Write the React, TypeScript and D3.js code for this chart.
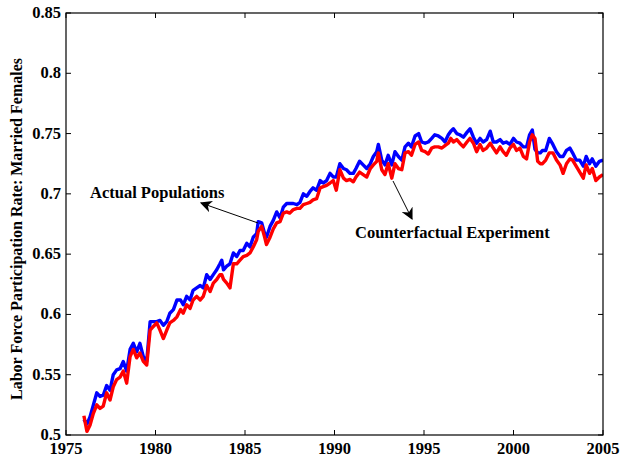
import React from "react";
import * as d3 from "d3";

const years: number[] = [
  1976.0, 1976.17, 1976.34, 1976.53, 1976.72, 1976.9, 1977.08, 1977.27, 1977.46, 1977.64,
  1977.83, 1978.02, 1978.2, 1978.39, 1978.58, 1978.76, 1978.95, 1979.13, 1979.32, 1979.51,
  1979.7, 1979.88, 1980.07, 1980.25, 1980.44, 1980.63, 1980.8, 1981.0, 1981.2, 1981.4,
  1981.55, 1981.74, 1981.93, 1982.1, 1982.3, 1982.5, 1982.67, 1982.86, 1983.05, 1983.23,
  1983.42, 1983.6, 1983.7, 1983.8, 1983.98, 1984.16, 1984.35, 1984.54, 1984.72, 1984.9,
  1985.1, 1985.28, 1985.46, 1985.65, 1985.74, 1985.93, 1986.1, 1986.2, 1986.4, 1986.58,
  1986.77, 1986.96, 1987.14, 1987.33, 1987.5, 1987.7, 1987.9, 1988.07, 1988.26, 1988.45,
  1988.63, 1988.8, 1989.0, 1989.2, 1989.37, 1989.56, 1989.75, 1989.93, 1990.1, 1990.3,
  1990.5, 1990.67, 1990.86, 1991.05, 1991.2, 1991.4, 1991.6, 1991.8, 1992.0, 1992.17,
  1992.36, 1992.45, 1992.64, 1992.82, 1993.0, 1993.2, 1993.38, 1993.57, 1993.76, 1993.94,
  1994.13, 1994.3, 1994.5, 1994.7, 1994.87, 1995.06, 1995.24, 1995.43, 1995.6, 1995.8,
  1996.0, 1996.17, 1996.36, 1996.5, 1996.64, 1996.83, 1997.0, 1997.2, 1997.4, 1997.57,
  1997.76, 1997.94, 1998.13, 1998.3, 1998.5, 1998.7, 1998.87, 1999.05, 1999.25, 1999.42,
  1999.6, 1999.8, 2000.0, 2000.17, 2000.36, 2000.55, 2000.73, 2000.9, 2001.05, 2001.2,
  2001.35, 2001.5, 2001.62, 2001.8, 2002.0, 2002.2, 2002.4, 2002.6, 2002.77, 2002.96,
  2003.15, 2003.3, 2003.5, 2003.7, 2003.9, 2004.06, 2004.25, 2004.4, 2004.6, 2004.8, 2005.0,
];

const actual: number[] = [
  0.513, 0.509, 0.515, 0.525, 0.535, 0.532, 0.533, 0.541, 0.537, 0.55,
  0.554, 0.555, 0.561, 0.553, 0.571, 0.576, 0.569, 0.576, 0.565, 0.561,
  0.594, 0.594, 0.594, 0.595, 0.591, 0.594, 0.601, 0.604, 0.612, 0.612,
  0.608, 0.615, 0.612, 0.62, 0.622, 0.624, 0.622, 0.633, 0.629, 0.633,
  0.637, 0.642, 0.645, 0.637, 0.64, 0.642, 0.651, 0.648, 0.653, 0.653,
  0.659, 0.656, 0.664, 0.667, 0.677, 0.676, 0.667, 0.664, 0.673, 0.678,
  0.685, 0.68, 0.689, 0.692, 0.692, 0.692, 0.691, 0.693, 0.7, 0.698,
  0.702, 0.705, 0.703, 0.711, 0.709, 0.711, 0.717, 0.714, 0.714, 0.725,
  0.721, 0.72, 0.717, 0.717, 0.721, 0.727, 0.724, 0.721, 0.725, 0.731,
  0.735, 0.741, 0.728, 0.724, 0.732, 0.724, 0.735, 0.731, 0.728, 0.739,
  0.742, 0.739, 0.748, 0.75, 0.743, 0.742, 0.743, 0.746, 0.749, 0.748,
  0.746, 0.743, 0.749, 0.752, 0.754, 0.75, 0.749, 0.747, 0.751, 0.754,
  0.747, 0.742, 0.746, 0.743, 0.745, 0.752, 0.743, 0.743, 0.745, 0.742,
  0.743, 0.741, 0.746, 0.743, 0.742, 0.739, 0.739, 0.749, 0.753, 0.737,
  0.734, 0.734, 0.736, 0.736, 0.746, 0.741, 0.735, 0.731, 0.731, 0.736,
  0.738, 0.734, 0.728, 0.728, 0.723, 0.731, 0.725, 0.729, 0.723, 0.727, 0.728,
];

const counterfactual: number[] = [
  0.516, 0.503, 0.508, 0.518, 0.525, 0.522, 0.524, 0.535, 0.529, 0.54,
  0.546, 0.548, 0.553, 0.543, 0.565, 0.571, 0.564, 0.568, 0.561, 0.558,
  0.587, 0.59, 0.593, 0.587, 0.58, 0.587, 0.593, 0.595, 0.598, 0.604,
  0.601, 0.608, 0.605, 0.612, 0.615, 0.612, 0.615, 0.624, 0.619, 0.626,
  0.629, 0.633, 0.633, 0.629, 0.626, 0.622, 0.642, 0.642, 0.645, 0.648,
  0.649, 0.651, 0.656, 0.662, 0.669, 0.673, 0.664, 0.658, 0.664, 0.671,
  0.676, 0.677, 0.684, 0.685, 0.684, 0.687, 0.688, 0.688, 0.691, 0.692,
  0.693, 0.695, 0.696, 0.705, 0.706, 0.707, 0.709, 0.711, 0.703, 0.72,
  0.713, 0.711, 0.712, 0.71, 0.714, 0.718, 0.716, 0.714, 0.721, 0.724,
  0.727, 0.734, 0.72, 0.716, 0.725, 0.713, 0.725, 0.721, 0.72, 0.734,
  0.735, 0.732, 0.741, 0.743, 0.736, 0.735, 0.733, 0.738, 0.739, 0.739,
  0.738, 0.74, 0.742, 0.746, 0.743, 0.745, 0.742, 0.739, 0.743, 0.746,
  0.742, 0.735, 0.741, 0.736, 0.738, 0.742, 0.738, 0.734, 0.739, 0.735,
  0.732, 0.738, 0.741, 0.736, 0.738, 0.731, 0.729, 0.743, 0.749, 0.746,
  0.727, 0.725, 0.725, 0.728, 0.734, 0.734, 0.728, 0.724, 0.717, 0.725,
  0.729, 0.728, 0.723, 0.718, 0.713, 0.724, 0.717, 0.721, 0.711, 0.714, 0.716,
];

const xTicks: number[] = [1975, 1980, 1985, 1990, 1995, 2000, 2005];
const yTicks: number[] = [0.5, 0.55, 0.6, 0.65, 0.7, 0.75, 0.8, 0.85];
const yLabel = "Labor Force Participation Rate: Married Females";
const actualLabel = "Actual Populations";
const counterLabel = "Counterfactual Experiment";

const W = 620;
const H = 459;
const left = 66;
const right = 603;
const top = 13;
const bottom = 435;
const font = "'Liberation Serif', 'Times New Roman', serif";

export default function App() {
  const x = d3.scaleLinear().domain([1975, 2005]).range([left, right]);
  const y = d3.scaleLinear().domain([0.5, 0.85]).range([bottom, top]);
  const line = d3
    .line<number>()
    .x((_, i) => x(years[i]))
    .y((d) => y(d));

  const tick = 5;
  return (
    <svg
      width={W}
      height={H}
      style={{ position: "absolute", left: 0, top: 0, background: "#fff" }}
      fontFamily={font}
      fontWeight="bold"
    >
      <defs>
        <marker
          id="ah"
          viewBox="0 0 10 10"
          refX="9"
          refY="5"
          markerWidth="12"
          markerHeight="12"
          markerUnits="userSpaceOnUse"
          orient="auto"
        >
          <path d="M0,0 L10,5 L0,10 L3,5 Z" fill="#000" />
        </marker>
        <clipPath id="plot">
          <rect x={left} y={top} width={right - left} height={bottom - top} />
        </clipPath>
      </defs>
      <rect x={0} y={0} width={W} height={H} fill="#fff" />
      <g clipPath="url(#plot)">
        <path d={line(actual) || ""} fill="none" stroke="#0000ff" strokeWidth={3.4} strokeLinejoin="round" />
        <path d={line(counterfactual) || ""} fill="none" stroke="#ff0000" strokeWidth={3.4} strokeLinejoin="round" />
      </g>
      <rect x={left} y={top} width={right - left} height={bottom - top} fill="none" stroke="#000" strokeWidth={1.2} />
      {xTicks.map((t) => (
        <g key={"x" + t}>
          <line x1={x(t)} x2={x(t)} y1={bottom} y2={bottom - tick} stroke="#000" />
          <line x1={x(t)} x2={x(t)} y1={top} y2={top + tick} stroke="#000" />
          <text x={x(t)} y={bottom + 19} textAnchor="middle" fontSize={16.5}>
            {t}
          </text>
        </g>
      ))}
      {yTicks.map((t) => (
        <g key={"y" + t}>
          <line x1={left} x2={left + tick} y1={y(t)} y2={y(t)} stroke="#000" />
          <line x1={right} x2={right - tick} y1={y(t)} y2={y(t)} stroke="#000" />
          <text x={left - 5} y={y(t) + 5} textAnchor="end" fontSize={16.5}>
            {String(t)}
          </text>
        </g>
      ))}
      <text
        transform={`translate(22,${(top + bottom) / 2 + 5}) rotate(-90)`}
        textAnchor="middle"
        fontSize={16}
      >
        {yLabel}
      </text>
      <text x={90} y={198} fontSize={16.5}>
        {actualLabel}
      </text>
      <text x={355} y={238} fontSize={16.5}>
        {counterLabel}
      </text>
      <line x1={258} y1={223} x2={201} y2={203} stroke="#000" strokeWidth={1} markerEnd="url(#ah)" />
      <line x1={393} y1={181} x2={412} y2={219} stroke="#000" strokeWidth={1} markerEnd="url(#ah)" />
    </svg>
  );
}
